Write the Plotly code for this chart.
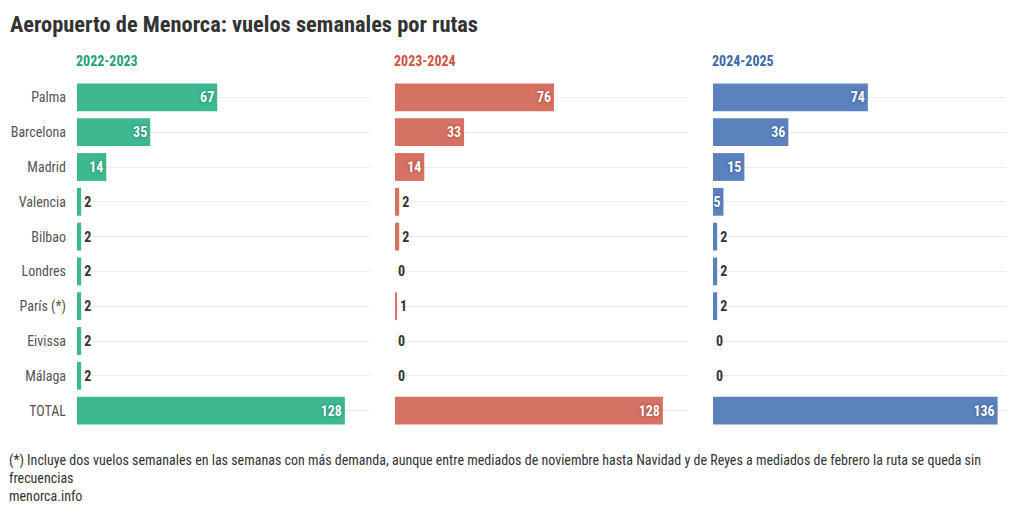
import plotly.graph_objects as go

categories = ["Palma", "Barcelona", "Madrid", "Valencia", "Bilbao", "Londres",
              "París (*)", "Eivissa", "Málaga", "TOTAL"]
seasons = ["2022-2023", "2023-2024", "2024-2025"]
v_2022 = [67, 35, 14, 2, 2, 2, 2, 2, 2, 128]
v_2023 = [76, 33, 14, 2, 2, 0, 1, 0, 0, 128]
v_2024 = [74, 36, 15, 5, 2, 2, 2, 0, 0, 136]
values = [v_2022, v_2023, v_2024]

bar_colors = ["#3db891", "#d57264", "#5b82bd"]
title_colors = ["#23a07a", "#cc5242", "#3c68a6"]
shadow_colors = ["#1d7a5c", "#9c3a2e", "#2d4f85"]

FONT = "Roboto Condensed, Liberation Sans Narrow, Roboto, sans-serif"

# page has an 8px body margin, so the figure is slightly smaller
W, H = 1012, 501
ml, mr, mt, mb = 69, 14, 72, 81
pw = W - ml - mr
ph = H - mt - mb
panel_px = 293
gap_px = (pw - 3 * panel_px) / 2

fig = go.Figure()
for i, (s, vals) in enumerate(zip(seasons, values)):
    pos = ["inside" if v >= 5 else "outside" for v in vals]
    xa = "x" if i == 0 else f"x{i+1}"
    ya = "y" if i == 0 else f"y{i+1}"
    fig.add_trace(go.Bar(
        y=categories, x=vals, orientation="h",
        marker=dict(color=bar_colors[i], line=dict(width=0)),
        text=[str(v) for v in vals], textposition=pos,
        insidetextanchor="end", constraintext="none",
        insidetextfont=dict(family=FONT, size=14, color="white", weight="bold",
                            shadow=f"0px 0px 3px {shadow_colors[i]}"),
        outsidetextfont=dict(family=FONT, size=14, color="#333", weight="bold"),
        cliponaxis=True, xaxis=xa, yaxis=ya, showlegend=False,
        hoverinfo="skip",
    ))

layout = dict(
    width=W, height=H,
    margin=dict(l=ml, r=mr, t=mt, b=mb, autoexpand=False),
    plot_bgcolor="white", paper_bgcolor="white",
    bargap=0.2,
    font=dict(family=FONT, size=14, color="#555"),
    title=dict(text="<b>Aeropuerto de Menorca: vuelos semanales por rutas</b>",
               x=2 / W, xanchor="left", xref="container",
               y=1 - 16 / H, yanchor="middle",
               font=dict(family=FONT, size=22.4, color="#333")),
)
annotations = []
for i in range(3):
    x0 = (i * (panel_px + gap_px)) / pw
    x1 = x0 + panel_px / pw
    key = "xaxis" if i == 0 else f"xaxis{i+1}"
    ykey = "yaxis" if i == 0 else f"yaxis{i+1}"
    layout[key] = dict(domain=[x0, x1], range=[0, 140], showgrid=False,
                       showticklabels=False, zeroline=False, fixedrange=True,
                       automargin=False,
                       anchor="y" if i == 0 else f"y{i+1}")
    layout[ykey] = dict(categoryorder="array", categoryarray=categories,
                        autorange="reversed", showgrid=True, gridcolor="#ececec",
                        gridwidth=1, showticklabels=(i == 0), ticks="",
                        ticklabelstandoff=10, automargin=False,
                        tickfont=dict(family=FONT, size=14, color="#555"),
                        anchor="x" if i == 0 else f"x{i+1}",
                        showline=False, zeroline=False)
    if i > 0:
        layout[ykey]["matches"] = "y"
    annotations.append(dict(
        text=f"<b>{seasons[i]}</b>", xref="paper", yref="paper",
        x=x0 - 2 / pw, xanchor="left", y=1 + (mt - 53) / ph, yanchor="middle",
        borderpad=0, showarrow=False,
        font=dict(family=FONT, size=14, color=title_colors[i])))

annotations.append(dict(
    text="(*) Incluye dos vuelos semanales en las semanas con más demanda, aunque entre mediados de noviembre hasta Navidad y de Reyes a mediados de febrero la ruta se queda sin<br>frecuencias<br>menorca.info",
    xref="paper", yref="paper", x=(0 - ml) / pw, xanchor="left", align="left",
    y=-(443 - (mt + ph)) / ph, yanchor="top", showarrow=False, borderpad=0,
    font=dict(family=FONT, size=14, color="#333")))
layout["annotations"] = annotations
fig.update_layout(**layout)
fig.write_html("out.html")
